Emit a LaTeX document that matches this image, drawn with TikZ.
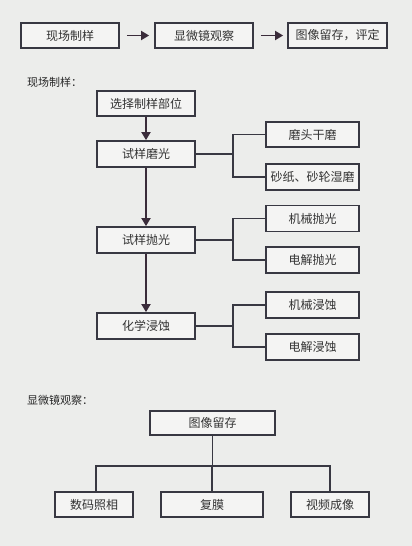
\documentclass[tikz,border=0pt]{standalone}
\usepackage{fontspec}
\newfontfamily\cjk{Noto Sans CJK SC}
\usetikzlibrary{arrows.meta,calc}
\definecolor{bgc}{HTML}{ECEDEB}
\definecolor{lnc}{HTML}{383842}
\definecolor{arc}{HTML}{3A2C3A}
\begin{document}
\begin{tikzpicture}[x=1pt,y=-1pt,
  box/.style={draw=lnc,line width=1.8pt,fill=white!40!bgc,inner sep=0pt,font=\cjk\fontsize{12}{14}\selectfont,text=black!80},
  lbl/.style={inner sep=0pt,anchor=west,font=\cjk\fontsize{11}{13}\selectfont,text=black!85},
  arr/.style={draw=arc,line width=1.8pt,-{Triangle[length=8pt,width=9pt]}},
  conn/.style={draw=lnc,line width=1.8pt}]
\fill[bgc] (0,0) rectangle (412,546);
\useasboundingbox (0,0) rectangle (412,546);
% top row
\node[box,minimum width=98pt,minimum height=25pt] (t1) at (70,35.5) {现场制样};
\node[box,minimum width=98pt,minimum height=25pt] (t2) at (204,35.5) {显微镜观察};
\node[box,minimum width=99pt,minimum height=25pt] (t3) at (337.5,35.5) {图像留存，评定};
\draw[arr,shorten <=7pt,shorten >=5pt] (t1.east) -- (t2.west);
\draw[arr,shorten <=7pt,shorten >=4pt] (t2.east) -- (t3.west);
% section 1
\node[lbl] (l1) at (27,82) {现场制样：};
\node[box,minimum width=98pt,minimum height=25pt] (A) at (146,103.5) {选择制样部位};
\node[box,minimum width=98pt,minimum height=26pt] (B) at (146,154) {试样磨光};
\node[box,minimum width=98pt,minimum height=26pt] (C) at (146,240) {试样抛光};
\node[box,minimum width=98pt,minimum height=26pt] (D) at (146,326) {化学浸蚀};
\draw[arr] (A.south) -- (B.north);
\draw[arr] (B.south) -- (C.north);
\draw[arr] (C.south) -- (D.north);
\node[box,minimum width=93pt,minimum height=25pt] (R1) at (312.5,134.5) {磨头干磨};
\node[box,minimum width=93pt,minimum height=26pt] (R2) at (312.5,177) {砂纸、砂轮湿磨};
\node[box,minimum width=93pt,minimum height=26pt] (R3) at (312.5,218.5) {机械抛光};
\node[box,minimum width=93pt,minimum height=26pt] (R4) at (312.5,260) {电解抛光};
\node[box,minimum width=93pt,minimum height=26pt] (R5) at (312.5,305) {机械浸蚀};
\node[box,minimum width=93pt,minimum height=26pt] (R6) at (312.5,347) {电解浸蚀};
\coordinate (bx) at (233,0);
\draw[conn] (B.east) -- (B.east -| bx);
\draw[conn] (R1.west) -- (R1.west -| bx) -- (R2.west -| bx) -- (R2.west);
\draw[conn] (C.east) -- (C.east -| bx);
\draw[conn] (R3.west) -- (R3.west -| bx) -- (R4.west -| bx) -- (R4.west);
\draw[conn] (D.east) -- (D.east -| bx);
\draw[conn] (R5.west) -- (R5.west -| bx) -- (R6.west -| bx) -- (R6.west);
% section 2
\node[lbl] (l2) at (27,400) {显微镜观察：};
\node[box,minimum width=125pt,minimum height=24pt] (P) at (212.5,423) {图像留存};
\node[box,minimum width=78pt,minimum height=25pt] (Q1) at (94,504.5) {数码照相};
\node[box,minimum width=102pt,minimum height=25pt] (Q2) at (212,504.5) {复膜};
\node[box,minimum width=78pt,minimum height=25pt] (Q3) at (330,504.5) {视频成像};
\coordinate (jy) at (0,466);
\coordinate (j1) at (96,466);
\coordinate (j3) at (330,466);
\draw[conn] (P.south) -- (P.south |- jy);
\draw[conn] (j1 |- Q1.north) -- (j1) -- (j3) -- (j3 |- Q3.north);
\draw[conn] (Q2.north) -- (Q2.north |- jy);
\end{tikzpicture}
\end{document}
